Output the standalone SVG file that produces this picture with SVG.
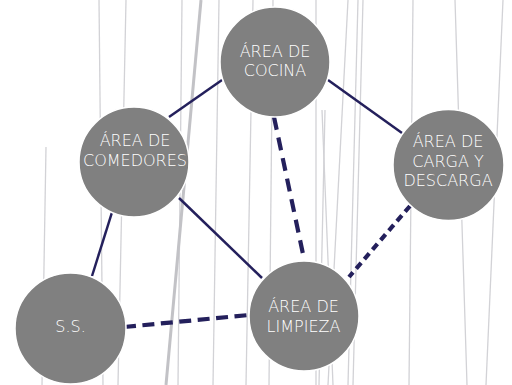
<svg xmlns="http://www.w3.org/2000/svg" width="512" height="385" viewBox="0 0 512 385">
<style>
.bg{stroke:#d2d2d6;stroke-width:1.3;fill:none}
.bgt{stroke:#c2c2c6;stroke-width:3;fill:none}
.c{stroke:#24205c;fill:none}
.s{stroke-width:2.5}
.d{stroke-width:4.2}
.n{fill:#808080;stroke:#ffffff;stroke-width:1.5}
.t{font-family:"DejaVu Sans","Open Sans",sans-serif;font-weight:200;font-size:16px;fill:#ffffff;text-anchor:middle}
</style>
<rect width="512" height="385" fill="#ffffff"/>
<g id="background">
<line class="bg" x1="46" y1="147" x2="42" y2="385"/>
<line class="bg" x1="99" y1="0" x2="103" y2="385"/>
<line class="bg" x1="126" y1="0" x2="118" y2="385"/>
<line class="bg" x1="182" y1="0" x2="178" y2="385"/>
<line class="bgt" x1="201" y1="0" x2="166" y2="385"/>
<line class="bg" x1="219" y1="0" x2="213" y2="385"/>
<line class="bg" x1="253" y1="0" x2="246" y2="385"/>
<line class="bg" x1="273" y1="0" x2="269" y2="385"/>
<line class="bg" x1="316" y1="0" x2="316" y2="385"/>
<line class="bg" x1="348" y1="0" x2="328" y2="385"/>
<line class="bg" x1="358" y1="0" x2="348" y2="385"/>
<line class="bg" x1="363" y1="0" x2="353" y2="385"/>
<line class="bg" x1="322" y1="110" x2="333" y2="385"/>
<line class="bg" x1="325" y1="110" x2="319" y2="385"/>
<line class="bg" x1="413" y1="0" x2="409" y2="385"/>
<line class="bg" x1="455" y1="0" x2="467" y2="385"/>
<line class="bg" x1="503" y1="0" x2="486" y2="385"/>
</g>
<g id="connectors">
<line class="c s" x1="222" y1="80" x2="169" y2="117"/>
<line class="c s" x1="328" y1="80" x2="402" y2="133"/>
<line class="c s" x1="114" y1="206" x2="92" y2="276"/>
<line class="c s" x1="179" y1="198" x2="262" y2="278"/>
<line class="c d" x1="274" y1="117" x2="303" y2="254" stroke-dasharray="13 8"/>
<line class="c d" x1="124" y1="327" x2="249" y2="315" stroke-dasharray="12 6.5"/>
<line class="c d" x1="410" y1="206" x2="349" y2="277" stroke-dasharray="7.5 5"/>
</g>
<g id="cocina">
<circle class="n" cx="275" cy="62" r="55"/>
<text class="t" x="275" y="57">ÁREA DE</text>
<text class="t" x="275" y="76">COCINA</text>
</g>
<g id="comedores">
<circle class="n" cx="134" cy="162" r="55"/>
<text class="t" x="135" y="146">ÁREA DE</text>
<text class="t" x="135" y="166">COMEDORES</text>
</g>
<g id="carga">
<circle class="n" cx="448.5" cy="165" r="55.5"/>
<text class="t" x="448" y="147">ÁREA DE</text>
<text class="t" x="448" y="167">CARGA Y</text>
<text class="t" x="448" y="186">DESCARGA</text>
</g>
<g id="ss">
<circle class="n" cx="70.5" cy="328.5" r="55.5"/>
<text class="t" x="70.5" y="332">S.S.</text>
</g>
<g id="limpieza">
<circle class="n" cx="304" cy="316" r="55"/>
<text class="t" x="303.5" y="312">ÁREA DE</text>
<text class="t" x="303.5" y="332">LIMPIEZA</text>
</g>
</svg>
